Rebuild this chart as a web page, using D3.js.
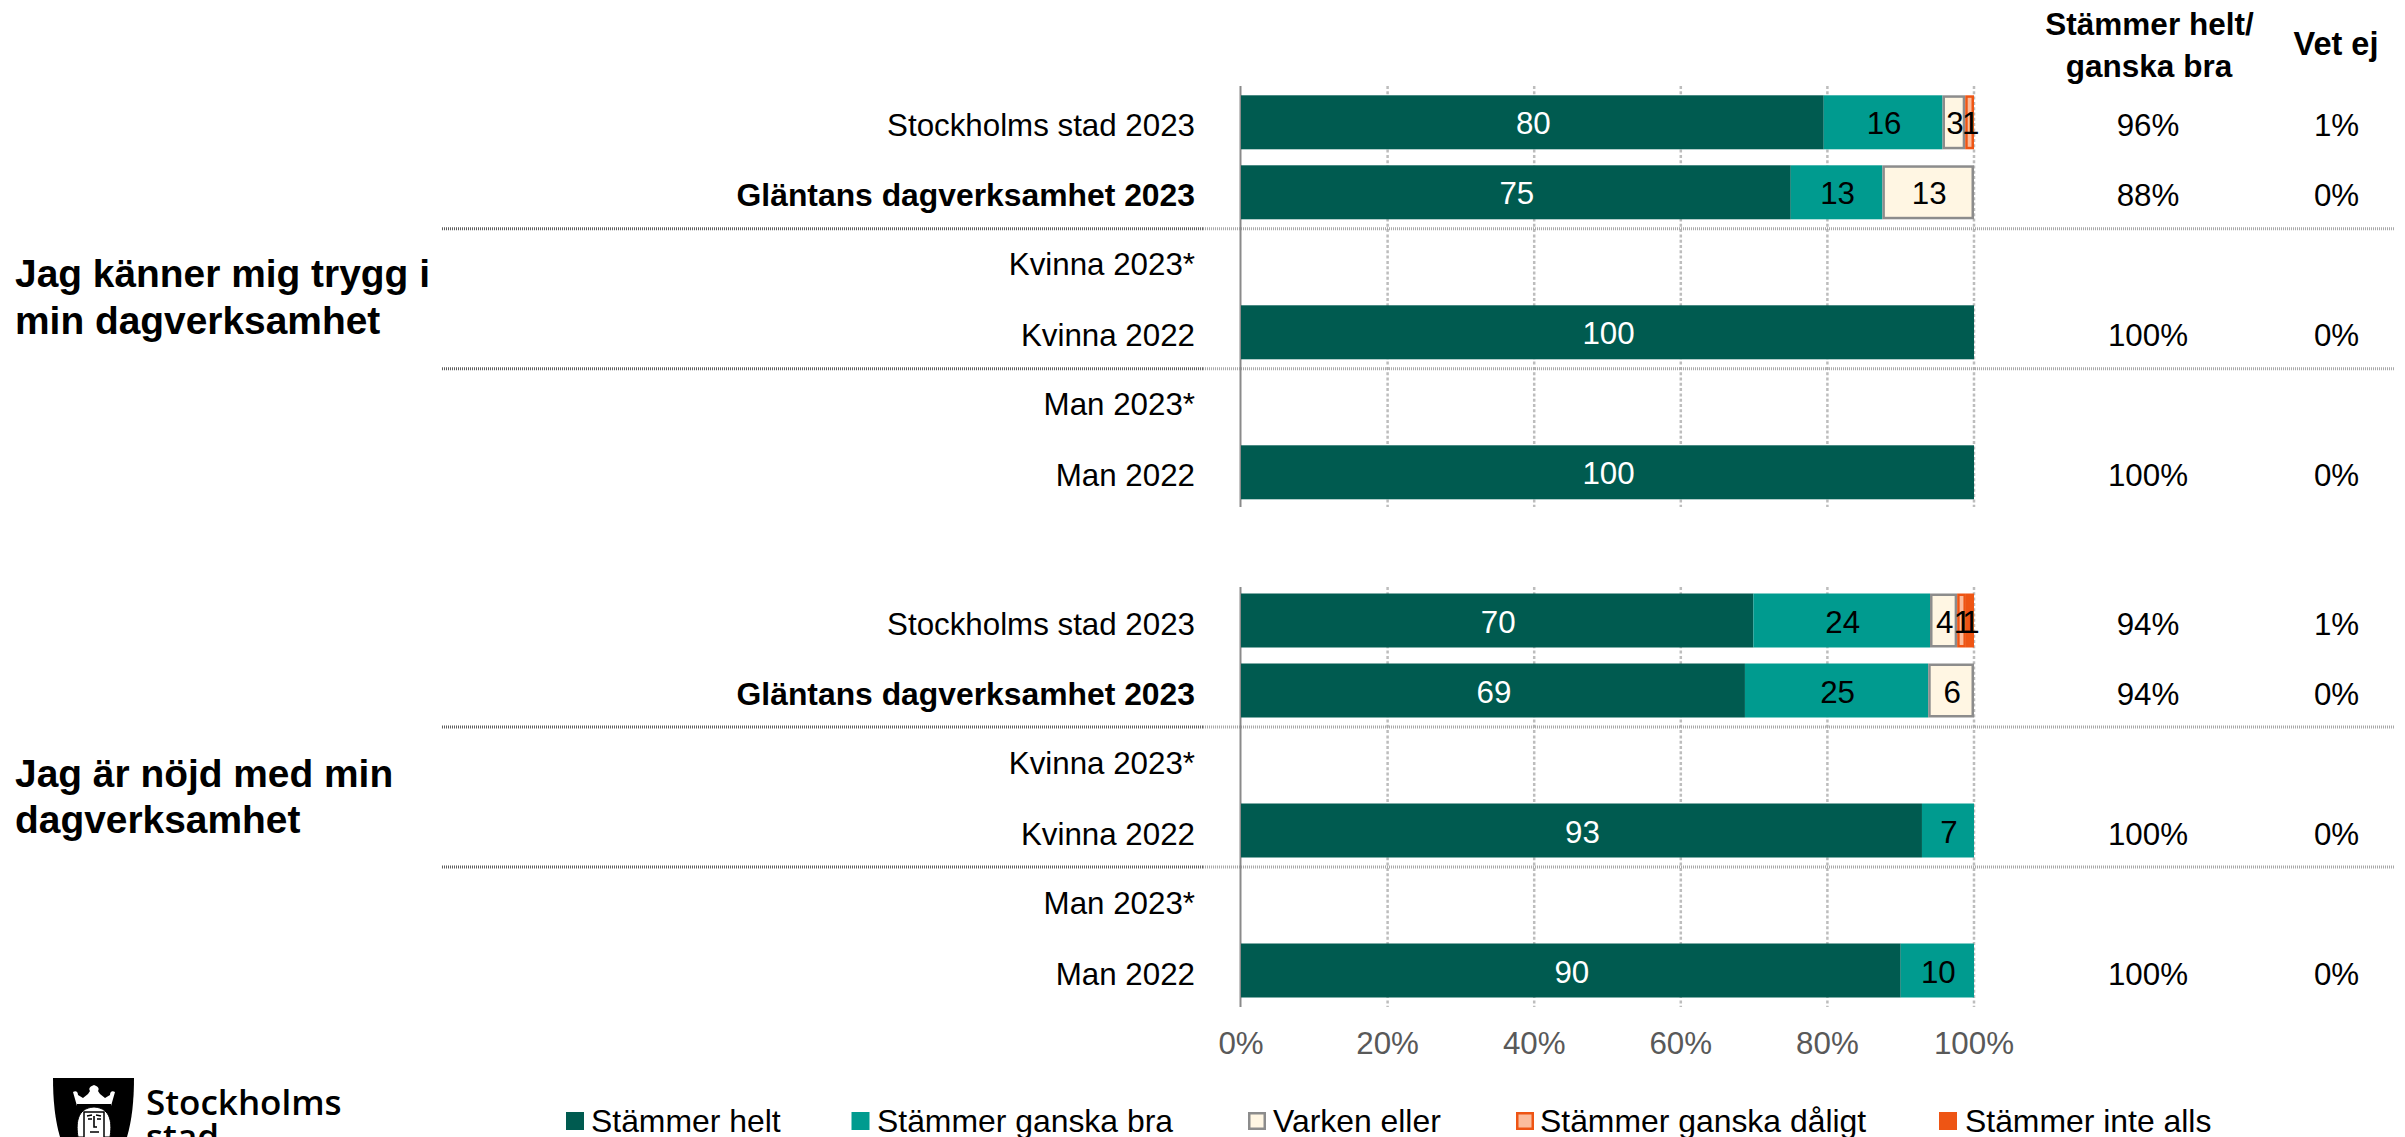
<!DOCTYPE html>
<html><head><meta charset="utf-8">
<script src="https://cdn.jsdelivr.net/npm/d3@7/dist/d3.min.js"></script>
<style>html,body{margin:0;padding:0;background:#fff}svg{display:block}text{font-family:"Liberation Sans",Arial,sans-serif}</style>
</head><body><div id="c"></div>
<script>
const rowLabels = ["Stockholms stad 2023","Gläntans dagverksamhet 2023","Kvinna 2023*","Kvinna 2022","Man 2023*","Man 2022"];
const seriesNames = ["Stämmer helt","Stämmer ganska bra","Varken eller","Stämmer ganska dåligt","Stämmer inte alls"];
const seriesFill = ["#005B50","#009B8F","#FFF6E3","#FBBD9D","#EE5514"];
const seriesStroke = [null,null,"#8C8C8C","#EE5514",null];
const tryggValues = [[79.5,16.2,3.1,1.2,0],[75,12.5,12.5,0,0],[0,0,0,0,0],[100,0,0,0,0],[0,0,0,0,0],[100,0,0,0,0]];
const nojdValues = [[69.9,24.1,3.7,1.2,1.1],[68.75,25,6.25,0,0],[0,0,0,0,0],[92.9,7.1,0,0,0],[0,0,0,0,0],[90,10,0,0,0]];
const tryggBra = ["96%","88%","","100%","","100%"];
const tryggVetEj = ["1%","0%","","0%","","0%"];
const nojdBra = ["94%","94%","","100%","","100%"];
const nojdVetEj = ["1%","0%","","0%","","0%"];
const xTicks = [0,20,40,60,80,100];
const groups = [
 {title:["Jag känner mig trygg i","min dagverksamhet"],values:tryggValues,bra:tryggBra,vet:tryggVetEj,range:[87.3,507.3],ext:[86,507],titleY:[287,334],axis:false},
 {title:["Jag är nöjd med min","dagverksamhet"],values:nojdValues,bra:nojdBra,vet:nojdVetEj,range:[585.5,1005.5],ext:[587,1007],titleY:[787,833],axis:true}
];
const W=2405,H=1137,FS=31.3;
const svg=d3.select("#c").append("svg").attr("width",W).attr("height",H);
const x=d3.scaleLinear().domain([0,100]).range([1241,1974]);

groups.forEach(g=>{
  const y=d3.scaleBand().domain(rowLabels).range(g.range).paddingInner(.2286).paddingOuter(.1143);
  const root=svg.append("g");
  root.selectAll("line.grid").data(xTicks.slice(1)).join("line").attr("class","grid")
    .attr("x1",d=>x(d)).attr("x2",d=>x(d)).attr("y1",g.ext[0]).attr("y2",g.ext[1])
    .attr("stroke","#BDBDBD").attr("stroke-width",2.5).attr("stroke-dasharray","3 2.3");
  [rowLabels[1],rowLabels[3]].forEach(r=>{
    const sy=y(r)+y.bandwidth()+9.4;
    [[442,1203,"#5E5E5E"],[1203,2394,"#A8A8A8"]].forEach(([a,b,c])=>{
      root.append("line").attr("x1",a).attr("x2",b).attr("y1",sy).attr("y2",sy)
        .attr("stroke",c).attr("stroke-width",3).attr("stroke-dasharray","1 1");
    });
  });
  root.append("line").attr("x1",x(0)-.5).attr("x2",x(0)-.5).attr("y1",g.ext[0]).attr("y2",g.ext[1])
    .attr("stroke","#8A8A8A").attr("stroke-width",2);
  const rows=rowLabels.map((r,i)=>{const o={row:r};seriesNames.forEach((s,k)=>o[s]=g.values[i][k]);return o;});
  const stacked=d3.stack().keys(seriesNames)(rows);
  stacked.forEach((layer,k)=>{
    const st=seriesStroke[k], ins=st?1.25:0;
    root.selectAll(null).data(layer.filter(d=>d[1]>d[0])).join("rect")
      .attr("x",d=>x(d[0])+ins).attr("width",d=>x(d[1])-x(d[0])-2*ins)
      .attr("y",d=>y(d.data.row)+ins).attr("height",y.bandwidth()-2*ins)
      .attr("fill",seriesFill[k]).attr("stroke",st).attr("stroke-width",st?2.5:0);
  });
  stacked.forEach((layer,k)=>{
    root.selectAll(null).data(layer.filter(d=>d[1]>d[0])).join("text")
      .attr("x",d=>(x(d[0])+x(d[1]))/2+1).attr("y",d=>y(d.data.row)+y.bandwidth()/2+12)
      .attr("text-anchor","middle").attr("font-size",FS).attr("fill",k===0?"#fff":"#000")
      .text(d=>Math.round(d[1]-d[0]));
  });
  rowLabels.forEach((r,i)=>{
    const cy=y(r)+y.bandwidth()/2+(i>=2&&i%2==0?13:14);
    root.append("text").attr("x",1195).attr("y",cy).attr("text-anchor","end").attr("font-size",i===1?31.85:FS)
      .attr("font-weight",i===1?"bold":"normal").attr("fill","#000").text(r);
    root.append("text").attr("x",2148).attr("y",cy).attr("text-anchor","middle").attr("font-size",FS).text(g.bra[i]);
    root.append("text").attr("x",2336.5).attr("y",cy).attr("text-anchor","middle").attr("font-size",FS).text(g.vet[i]);
  });
  g.title.forEach((t,i)=>root.append("text").attr("x",15).attr("y",g.titleY[i]).attr("font-size",38.9).attr("font-weight","bold").text(t));
  if(g.axis){
    root.selectAll("text.tick").data(xTicks).join("text").attr("class","tick")
      .attr("x",d=>x(d)).attr("y",1054).attr("text-anchor","middle").attr("font-size",FS).attr("fill","#595959")
      .text(d=>d+"%");
  }
});

const hdr=svg.append("g").attr("font-weight","bold").attr("font-size",31.5).attr("text-anchor","middle");
hdr.append("text").attr("x",2149.5).attr("y",35).text("Stämmer helt/");
hdr.append("text").attr("x",2149).attr("y",77).text("ganska bra");
hdr.append("text").attr("x",2336).attr("y",55).attr("font-size",32.5).text("Vet ej");

const legendSwatchX=[566,851.5,1248,1516,1939];
const legendTextX=[591,877,1273,1540,1965];
seriesNames.forEach((s,k)=>{
  const st=seriesStroke[k], ins=st?1.25:0;
  svg.append("rect").attr("x",legendSwatchX[k]+ins).attr("y",1112+ins).attr("width",18-2*ins).attr("height",18-2*ins)
    .attr("fill",seriesFill[k]).attr("stroke",st).attr("stroke-width",st?2.5:0);
  svg.append("text").attr("x",legendTextX[k]).attr("y",1132).attr("font-size",FS+.6).text(s);
});

// logo
const logo=svg.append("g");
logo.append("path").attr("d","M53,1078H134C134,1100 132,1120 127,1137H60C55,1120 53,1100 53,1078Z").attr("fill","#000");
logo.append("path").attr("d","M73,1092C76,1090 78,1092 78,1095L83,1098L88,1094L90,1091C88,1088 91,1086 94,1085C97,1086 100,1088 98,1091L100,1094L105,1098L110,1095C110,1092 112,1090 115,1092L111,1106H77Z").attr("fill","#fff");
logo.append("rect").attr("x",77).attr("y",1104).attr("width",34).attr("height",2).attr("fill","#000");
logo.append("path").attr("d","M78,1137C76,1125 76,1108 94,1107C112,1108 112,1125 110,1137Z").attr("fill","#fff").attr("stroke","#000").attr("stroke-width",1);
logo.append("path").attr("d","M84,1137V1112H104V1137").attr("fill","#fff").attr("stroke","#000").attr("stroke-width",1.5);
logo.append("path").attr("d","M87,1116L92,1115M96,1115L101,1116M88,1119H92M97,1119H101M94,1116V1127H97M90,1132H99").attr("fill","none").attr("stroke","#000").attr("stroke-width",1.6);
logo.append("text").attr("x",146).attr("y",1115).style("font-family","'Open Sans'").attr("font-size",35).attr("font-weight",600).text("Stockholms");
logo.append("text").attr("x",146).attr("y",1149).style("font-family","'Open Sans'").attr("font-size",35).attr("font-weight",600).text("stad");
</script></body></html>
